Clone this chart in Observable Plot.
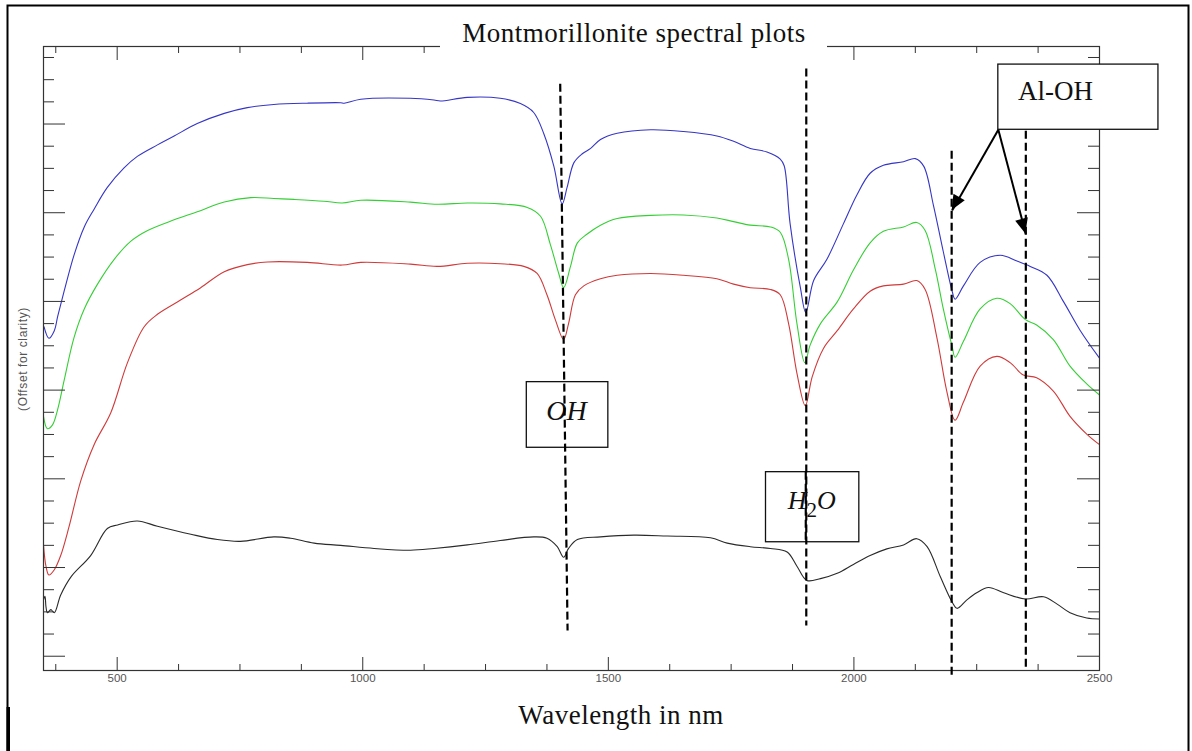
<!DOCTYPE html>
<html><head><meta charset="utf-8">
<script src="https://cdn.jsdelivr.net/npm/d3@7"></script>
<script src="https://cdn.jsdelivr.net/npm/@observablehq/plot@0.6"></script>
<style>body{margin:0;background:#fff;} svg{display:block}</style>
</head><body><div id="chart"></div>
<script>
// ---- data: [wavelength nm, offset reflectance] ----
const blueSpectrum = [[351,0.743],[361,0.717],[372,0.734],[379,0.767],[392,0.823],[412,0.904],[433,0.968],[453,1.008],[480,1.057],[514,1.101],[541,1.127],[582,1.153],[616,1.173],[663,1.201],[718,1.224],[765,1.237],[819,1.244],[887,1.247],[955,1.248],[962,1.247],[996,1.256],[1097,1.258],[1145,1.254],[1158,1.252],[1213,1.260],[1280,1.258],[1321,1.246],[1348,1.226],[1369,1.177],[1389,1.105],[1406,1.020],[1416,1.057],[1430,1.113],[1447,1.133],[1464,1.145],[1484,1.165],[1518,1.179],[1586,1.187],[1653,1.183],[1721,1.173],[1755,1.161],[1789,1.145],[1823,1.137],[1850,1.121],[1858,1.106],[1870,0.976],[1891,0.831],[1902,0.775],[1918,0.847],[1945,0.895],[1979,0.976],[2006,1.040],[2033,1.089],[2060,1.107],[2101,1.115],[2125,1.122],[2142,1.105],[2162,1.016],[2182,0.912],[2200,0.823],[2206,0.805],[2223,0.835],[2257,0.888],[2298,0.904],[2332,0.891],[2359,0.879],[2393,0.859],[2427,0.799],[2461,0.734],[2500,0.672]];
const greenSpectrum = [[350,0.541],[358,0.513],[368,0.521],[379,0.557],[392,0.622],[412,0.718],[433,0.783],[460,0.839],[494,0.895],[528,0.936],[562,0.960],[616,0.984],[663,1.002],[718,1.024],[772,1.034],[819,1.032],[860,1.030],[921,1.026],[958,1.022],[996,1.028],[1097,1.024],[1152,1.019],[1213,1.022],[1280,1.020],[1335,1.012],[1362,0.992],[1382,0.928],[1399,0.863],[1409,0.831],[1423,0.879],[1437,0.932],[1457,0.952],[1484,0.972],[1518,0.987],[1586,0.994],[1653,0.995],[1721,0.988],[1755,0.980],[1789,0.972],[1830,0.968],[1850,0.956],[1867,0.895],[1884,0.750],[1900,0.662],[1911,0.702],[1932,0.750],[1966,0.799],[1999,0.871],[2033,0.932],[2060,0.958],[2101,0.968],[2128,0.978],[2145,0.960],[2166,0.871],[2182,0.783],[2200,0.698],[2206,0.674],[2223,0.710],[2257,0.783],[2291,0.807],[2318,0.795],[2349,0.759],[2372,0.747],[2406,0.714],[2440,0.654],[2474,0.614],[2500,0.589]];
const redSpectrum = [[350,0.251],[355,0.203],[361,0.183],[372,0.195],[385,0.227],[402,0.292],[426,0.396],[453,0.477],[487,0.549],[521,0.662],[555,0.743],[582,0.771],[629,0.803],[670,0.831],[718,0.867],[765,0.883],[806,0.889],[887,0.888],[958,0.882],[996,0.888],[1097,0.884],[1152,0.879],[1213,0.886],[1280,0.885],[1328,0.879],[1355,0.863],[1375,0.815],[1392,0.759],[1409,0.714],[1419,0.750],[1433,0.815],[1450,0.835],[1484,0.851],[1518,0.859],[1586,0.863],[1653,0.859],[1721,0.851],[1755,0.839],[1789,0.831],[1830,0.827],[1850,0.815],[1867,0.750],[1884,0.638],[1901,0.565],[1915,0.630],[1938,0.694],[1966,0.734],[1999,0.783],[2033,0.823],[2060,0.835],[2101,0.839],[2128,0.847],[2145,0.827],[2169,0.718],[2189,0.598],[2206,0.532],[2223,0.573],[2257,0.654],[2291,0.676],[2318,0.662],[2345,0.634],[2372,0.628],[2406,0.598],[2440,0.541],[2474,0.501],[2500,0.477]];
const blackSpectrum = [[350,0.127],[353,0.135],[355,0.112],[358,0.098],[365,0.105],[372,0.098],[385,0.138],[406,0.179],[446,0.227],[480,0.288],[501,0.296],[541,0.305],[582,0.293],[650,0.275],[704,0.263],[751,0.259],[819,0.269],[853,0.266],[901,0.255],[955,0.250],[1023,0.243],[1097,0.239],[1145,0.243],[1213,0.251],[1280,0.261],[1348,0.269],[1375,0.266],[1396,0.247],[1409,0.223],[1419,0.243],[1437,0.263],[1484,0.269],[1552,0.273],[1620,0.271],[1708,0.267],[1742,0.255],[1789,0.247],[1830,0.243],[1864,0.235],[1884,0.203],[1904,0.171],[1932,0.175],[1966,0.187],[1999,0.207],[2033,0.227],[2067,0.242],[2101,0.251],[2128,0.265],[2149,0.247],[2176,0.179],[2200,0.122],[2210,0.108],[2230,0.127],[2250,0.143],[2274,0.155],[2305,0.143],[2349,0.129],[2386,0.134],[2413,0.118],[2440,0.098],[2474,0.086],[2500,0.084]];

const seriesNames = ["blue", "green", "red", "black"];
const seriesColors = ["#3535c6", "#35cf35", "#d03a3a", "#2a2a2a"];
const seriesData = [blueSpectrum, greenSpectrum, redSpectrum, blackSpectrum];

// axis ticks
const xMajorTicks = [500, 1000, 1500, 2000, 2500];
const xMinorTicks = [375, 625, 750, 875, 1125, 1250, 1375, 1625, 1750, 1875, 2125, 2250, 2375];
const yMajorTicks = [0, 0.2, 0.4, 0.6, 0.8, 1.0, 1.2];
const yMinorTicks = [0.05, 0.1, 0.15, 0.25, 0.3, 0.35, 0.45, 0.5, 0.55, 0.65, 0.7, 0.75, 0.85, 0.9, 0.95, 1.05, 1.1, 1.15, 1.25, 1.3, 1.35];

// annotations (data coordinates)
const featureLines = [
  {x1: 1402, y1: 1.291, x2: 1417, y2: 0.058},
  {x1: 1903, y1: 1.325, x2: 1903, y2: 0.069},
  {x1: 2199, y1: 1.140, x2: 2199, y2: -0.046},
  {x1: 2350, y1: 1.185, x2: 2350, y2: -0.028}
];
const labelBoxes = [
  {x1: 1334, x2: 1500, y1: 0.470, y2: 0.618},
  {x1: 1821, x2: 2011, y1: 0.257, y2: 0.415},
  {x1: 2294, x2: 2620, y1: 1.187, y2: 1.334}
];
const labelTexts = [
  {x: 1415, y: 0.552, text: "OH", italic: true, size: 28, anchor: "middle"},
  {x: 2334, y: 1.274, text: "Al-OH", italic: false, size: 27, anchor: "start"}
];
const waterLabel = {x: 1915, y: 0.330};
const arrows = [
  {x1: 2294, y1: 1.187, x2: 2200, y2: 1.005},
  {x1: 2294, y1: 1.187, x2: 2350, y2: 0.952}
];

const W = 1192, H = 751, mL = 43, mR = 93, mT = 46, mB = 81;
const iw = W - mL - mR, ih = H - mT - mB;
const axisColor = "#333";

const plot = Plot.plot({
  width: W, height: H,
  marginLeft: mL, marginRight: mR, marginTop: mT, marginBottom: mB,
  style: {fontFamily: "'Liberation Sans', Arial, sans-serif", background: "white", overflow: "visible"},
  x: {domain: [350, 2500]},
  y: {domain: [-0.0322, 1.3748], axis: null},
  marks: [
    ...seriesData.map((d, i) => Plot.line(d, {x: p => p[0], y: p => p[1], stroke: seriesColors[i], strokeWidth: 1.1, curve: "catmull-rom"})),
    Plot.ruleX(xMinorTicks, {stroke: axisColor, insetTop: ih - 6}),
    Plot.ruleX(xMajorTicks, {stroke: axisColor, insetTop: ih - 13}),
    Plot.ruleX(xMinorTicks, {stroke: axisColor, insetBottom: ih - 7}),
    Plot.ruleX(xMajorTicks, {stroke: axisColor, insetBottom: ih - 14}),
    Plot.ruleY(yMinorTicks, {stroke: axisColor, insetRight: iw - 11}),
    Plot.ruleY(yMajorTicks, {stroke: axisColor, insetRight: iw - 22}),
    Plot.ruleY(yMinorTicks, {stroke: axisColor, insetLeft: iw - 11}),
    Plot.ruleY(yMajorTicks, {stroke: axisColor, insetLeft: iw - 22}),
    Plot.frame({stroke: axisColor, strokeWidth: 1.2}),
    Plot.axisX({ticks: xMajorTicks, tickFormat: d => String(d), tickSize: 0, tickPadding: 3, fontSize: 11.5, color: "#555", label: null}),
    Plot.rect(labelBoxes, {x1: "x1", x2: "x2", y1: "y1", y2: "y2", fill: "white", stroke: "#111", strokeWidth: 1.3}),
    ...labelTexts.map(t => Plot.text([t], {x: "x", y: "y", text: "text", fontSize: t.size, textAnchor: t.anchor, fontStyle: t.italic ? "italic" : "normal", fontFamily: "'Liberation Serif', 'Times New Roman', serif", fill: "#111"})),
    Plot.link(arrows, {x1: "x1", y1: "y1", x2: "x2", y2: "y2", stroke: "black", strokeWidth: 2}),
    Plot.link(featureLines, {x1: "x1", y1: "y1", x2: "x2", y2: "y2", stroke: "black", strokeWidth: 2.2, strokeDasharray: "8,4"})
  ]
});

document.getElementById("chart").appendChild(plot);

const svg = d3.select(plot);
const sx = plot.scale("x"), sy = plot.scale("y");

// H2O label with subscript
const wt = svg.append("text")
  .attr("x", sx.apply(waterLabel.x)).attr("y", sy.apply(waterLabel.y))
  .attr("text-anchor", "middle")
  .attr("font-family", "'Liberation Serif', 'Times New Roman', serif")
  .attr("font-style", "italic").attr("font-size", 26).attr("fill", "#111");
wt.append("tspan").text("H");
wt.append("tspan").attr("dy", 8).attr("font-size", 21).attr("font-style", "normal").text("2");
wt.append("tspan").attr("dy", -8).text("O");
// re-draw the H2O dashed line on top of the label
svg.append("line")
  .attr("x1", sx.apply(featureLines[1].x1)).attr("y1", sy.apply(0.415))
  .attr("x2", sx.apply(featureLines[1].x2)).attr("y2", sy.apply(0.257))
  .attr("stroke", "black").attr("stroke-width", 2.2).attr("stroke-dasharray", "8,4");

// filled arrowheads
arrows.forEach(a => {
  const x0 = sx.apply(a.x1), y0 = sy.apply(a.y1), x1 = sx.apply(a.x2), y1 = sy.apply(a.y2);
  const len = Math.hypot(x1 - x0, y1 - y0), ux = (x1 - x0) / len, uy = (y1 - y0) / len;
  const L = 15, w = 6.5, bx = x1 - ux * L, by = y1 - uy * L;
  svg.append("polygon")
    .attr("points", `${x1},${y1} ${bx - uy * w},${by + ux * w} ${bx + uy * w},${by - ux * w}`)
    .attr("fill", "black");
});

// title with white backing over the top axis
svg.append("rect").attr("x", 440).attr("y", 18).attr("width", 387).attr("height", 46).attr("fill", "white");
svg.append("text").attr("x", 634).attr("y", 42).attr("text-anchor", "middle")
  .attr("font-family", "'Liberation Serif', 'Times New Roman', serif").attr("font-size", 27)
  .attr("letter-spacing", 0.5).attr("fill", "#111").text("Montmorillonite spectral plots");

// x axis title
svg.append("text").attr("x", 621).attr("y", 724).attr("text-anchor", "middle")
  .attr("font-family", "'Liberation Serif', 'Times New Roman', serif").attr("font-size", 27)
  .attr("letter-spacing", 0.5).attr("fill", "#111").text("Wavelength in nm");

// y axis title
svg.append("text").attr("transform", "translate(27,359) rotate(-90)").attr("text-anchor", "middle")
  .attr("font-family", "'Liberation Sans', Arial, sans-serif").attr("font-size", 12)
  .attr("letter-spacing", 0.6).attr("fill", "#555").text("(Offset for clarity)");

// outer page frame
svg.append("path").attr("d", "M7.5,751 V5.5 H1188.5 V751").attr("fill", "none").attr("stroke", "black").attr("stroke-width", 2);
svg.append("rect").attr("x", 6.5).attr("y", 707).attr("width", 3.5).attr("height", 44).attr("fill", "black");
</script>
</body></html>
